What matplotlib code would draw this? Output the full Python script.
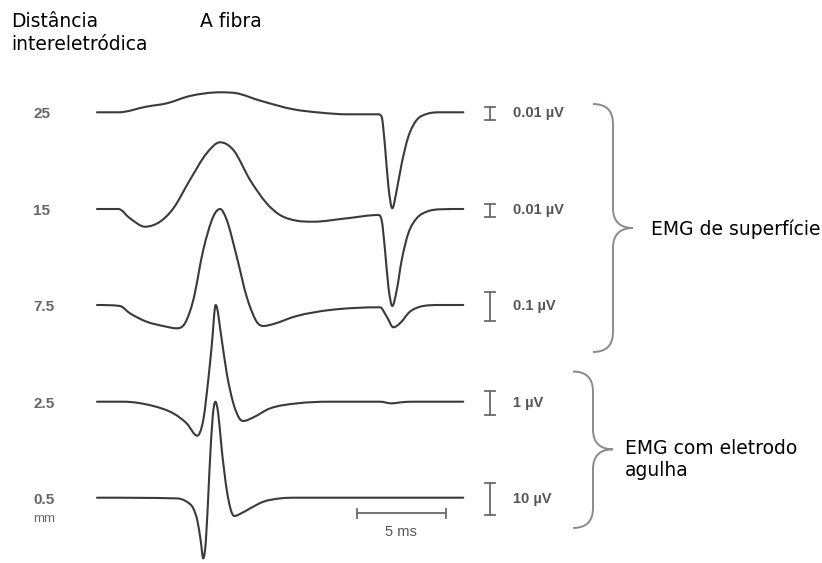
import matplotlib
matplotlib.use("Agg")
import matplotlib.pyplot as plt
from matplotlib.path import Path
from matplotlib.patches import PathPatch

# ---------------------------------------------------------------
# dados: traçados (tempo em ms, deflexão em unidades de desenho)
# ---------------------------------------------------------------
distancias = ["25", "15", "7.5", "2.5", "0.5"]
escalas = ["0.01 \u00b5V", "0.01 \u00b5V", "0.1 \u00b5V", "1 \u00b5V", "10 \u00b5V"]
altura_escala = [13, 13, 29, 24, 32]

t_25 = [0, 1.20, 2.79, 3.92, 5.22, 6.91, 7.85, 9.16, 11.03, 12.53, 14.03, 15.80,
        15.99, 16.18, 16.37, 16.59, 16.84, 17.12, 17.49, 17.96, 18.52, 19.27, 20.58]
a_25 = [0, 0, 5.7, 9, 16.3, 20, 19, 11.7, 3, -0.3, -2, -2,
        -4.4, -34, -74, -96, -77.7, -51, -24.4, -7.7, -1.7, 0, 0]

t_15 = [0, 1.20, 1.85, 2.70, 3.54, 4.29, 5.22, 6.16, 6.91, 7.66, 8.60, 9.53, 10.28,
        11.22, 12.15, 14.03, 15.80, 15.99, 16.18, 16.37, 16.59, 16.84, 17.12, 17.49,
        17.96, 18.52, 19.27, 20.58]
a_15 = [0, 0, -9.3, -17.7, -12.7, 0.7, 29, 55.7, 66.7, 59, 29, 5.7, -6,
        -11.7, -12.7, -9.3, -6, -11, -41, -77.7, -97, -81, -51, -24.3,
        -9.3, -2.7, -0.3, 0]

t_75 = [0, 1.29, 1.85, 2.79, 3.72, 4.48, 4.94, 5.41, 5.97, 6.53, 6.91, 7.29, 7.85,
        8.41, 8.97, 9.35, 9.91, 11.22, 13.09, 15.90, 16.28, 16.65, 17.02, 17.58,
        18.33, 19.27, 20.58]
a_75 = [0, -1, -8.3, -16.7, -21, -23.3, -18.3, 5, 55, 88.3, 96, 85, 48.3,
        8.3, -16.7, -21, -19, -11, -5, -2.3, -11.7, -22.3, -18.3, -6.7,
        -1, 0, 0]

t_25b = [0, 1.48, 3.16, 4.29, 5.04, 5.63, 5.97, 6.25, 6.44, 6.67, 7.01, 7.29, 7.66,
         8.00, 8.22, 8.78, 9.72, 11.22, 13.09, 15.90, 16.56, 17.02, 17.77, 20.58]
a_25b = [0, 0, -4.3, -11.7, -21.7, -34, -18.3, 21.7, 55, 96.7, 61.7, 28.3, -1.7,
         -16.7, -19.3, -15.7, -6.7, -1.7, 0, 0, -1.7, -0.7, 0, 0]

t_05 = [0, 4.49, 5.04, 5.41, 5.63, 5.82, 5.97, 6.12, 6.31, 6.50, 6.65, 6.81, 7.01,
        7.29, 7.52, 7.71, 8.03, 8.60, 9.35, 10.28, 11.22, 20.58]
a_05 = [0, -0.7, -4, -10.7, -22.3, -42.3, -60.7, -42.3, 24.3, 81, 96, 84.3, 47.7,
        7.7, -12.3, -18.3, -16.3, -10.7, -4, -0.7, 0, 0]

tempos = [t_25, t_15, t_75, t_25b, t_05]
amplitudes = [a_25, a_15, a_75, a_25b, a_05]

# ---------------------------------------------------------------
# layout (pixels da figura 822x563)
# ---------------------------------------------------------------
W, H = 822, 563
x0_px, px_ms = 97, 17.8          # início do traçado e escala horizontal
linhas_base = [112.3, 209, 305, 401.7, 497.7]

fig = plt.figure(figsize=(W / 100, H / 100), dpi=100)
ax = fig.add_axes([0, 0, 1, 1])
ax.set_xlim(-x0_px / px_ms, (W - x0_px) / px_ms)
ax.set_ylim(H, 0)
ax.axis("off")


def traco_suave(t, y):
    # curva cúbica monótona (Fritsch-Carlson) passando pelos pontos lidos
    n = len(t)
    sec = [(y[i + 1] - y[i]) / (t[i + 1] - t[i]) for i in range(n - 1)]
    inc = [0.0] * n
    for i in range(1, n - 1):
        dl, dr = sec[i - 1], sec[i]
        if dl * dr > 0:
            m = (dl + dr) / 2
            lim = 3 * min(abs(dl), abs(dr))
            inc[i] = max(-lim, min(lim, m))
    verts = [(t[0], y[0])]
    codes = [Path.MOVETO]
    for i in range(n - 1):
        dt = t[i + 1] - t[i]
        verts += [(t[i] + dt / 3, y[i] + inc[i] * dt / 3),
                  (t[i + 1] - dt / 3, y[i + 1] - inc[i + 1] * dt / 3),
                  (t[i + 1], y[i + 1])]
        codes += [Path.CURVE4] * 3
    return Path(verts, codes)


cor_traco = "#3a3a3a"
for t, a, y0 in zip(tempos, amplitudes, linhas_base):
    ax.add_patch(PathPatch(traco_suave(t, [y0 - v for v in a]), fill=False,
                           edgecolor=cor_traco, lw=1.5, joinstyle="round",
                           capstyle="round"))

# barras de amplitude
t_barra = (490 - x0_px) / px_ms
meia_tampa = 5 / px_ms
cor_barra = "#6a6a6a"
for y0, h, rot in zip(linhas_base, altura_escala, escalas):
    yc = y0 + 1
    ax.plot([t_barra, t_barra], [yc - h / 2, yc + h / 2], color=cor_barra, lw=1.3)
    for yy in (yc - h / 2, yc + h / 2):
        ax.plot([t_barra - meia_tampa, t_barra + meia_tampa], [yy, yy],
                color=cor_barra, lw=1.3)
    ax.text((513 - x0_px) / px_ms, yc, rot, ha="left", va="center",
            fontsize=10.5, fontweight="bold", color="#555555",
            family="Liberation Sans")

# barra de tempo 5 ms
t_ini = (356.7 - x0_px) / px_ms
ax.plot([t_ini, t_ini + 5], [513.3, 513.3], color=cor_barra, lw=1.3)
for tt in (t_ini, t_ini + 5):
    ax.plot([tt, tt], [509, 517.5], color=cor_barra, lw=1.3)
ax.text(t_ini + 2.5, 532, "5 ms", ha="center", va="center",
        fontsize=10.5, color="#555555", family="Liberation Sans")

# rótulos de distância
for y0, rot in zip(linhas_base, distancias):
    ax.text(-64 / px_ms, y0 + 2, rot, ha="left", va="center",
            fontsize=11, fontweight="bold", color="#666666",
            family="Liberation Sans")
ax.text(-64 / px_ms, 519, "mm", ha="left", va="center",
        fontsize=9.5, color="#666666", family="Liberation Sans")

# camada em pixels para textos e chaves
ov = fig.add_axes([0, 0, 1, 1])
ov.set_xlim(0, W)
ov.set_ylim(H, 0)
ov.axis("off")
ov.patch.set_alpha(0)

fonte = dict(fontsize=13.5, color="black", family="DejaVu Sans", va="baseline")
ov.text(11, 27, "Dist\u00e2ncia", **fonte)
ov.text(11, 49.5, "intereletr\u00f3dica", **fonte)
ov.text(200, 27, "A fibra", **fonte)
ov.text(651, 235, "EMG de superf\u00edcie", **fonte)
ov.text(625, 453.5, "EMG com eletrodo", **fonte)
ov.text(625, 476.5, "agulha", **fonte)


def chave(xe, xv, xp, ytop, ymid, ybot, r=20):
    verts = [(xe, ytop), (xv, ytop), (xv, ytop + r),
             (xv, ymid - r), (xv, ymid), (xp, ymid),
             (xv, ymid), (xv, ymid + r),
             (xv, ybot - r), (xv, ybot), (xe, ybot)]
    codes = [Path.MOVETO, Path.CURVE3, Path.CURVE3,
             Path.LINETO, Path.CURVE3, Path.CURVE3,
             Path.CURVE3, Path.CURVE3,
             Path.LINETO, Path.CURVE3, Path.CURVE3]
    ov.add_patch(PathPatch(Path(verts, codes), fill=False,
                           edgecolor="#8a8a8a", lw=1.4))


chave(593, 613, 633, 104, 228, 352)
chave(573, 593, 613, 371.5, 449.3, 528)

plt.savefig("out.png", dpi=100)
